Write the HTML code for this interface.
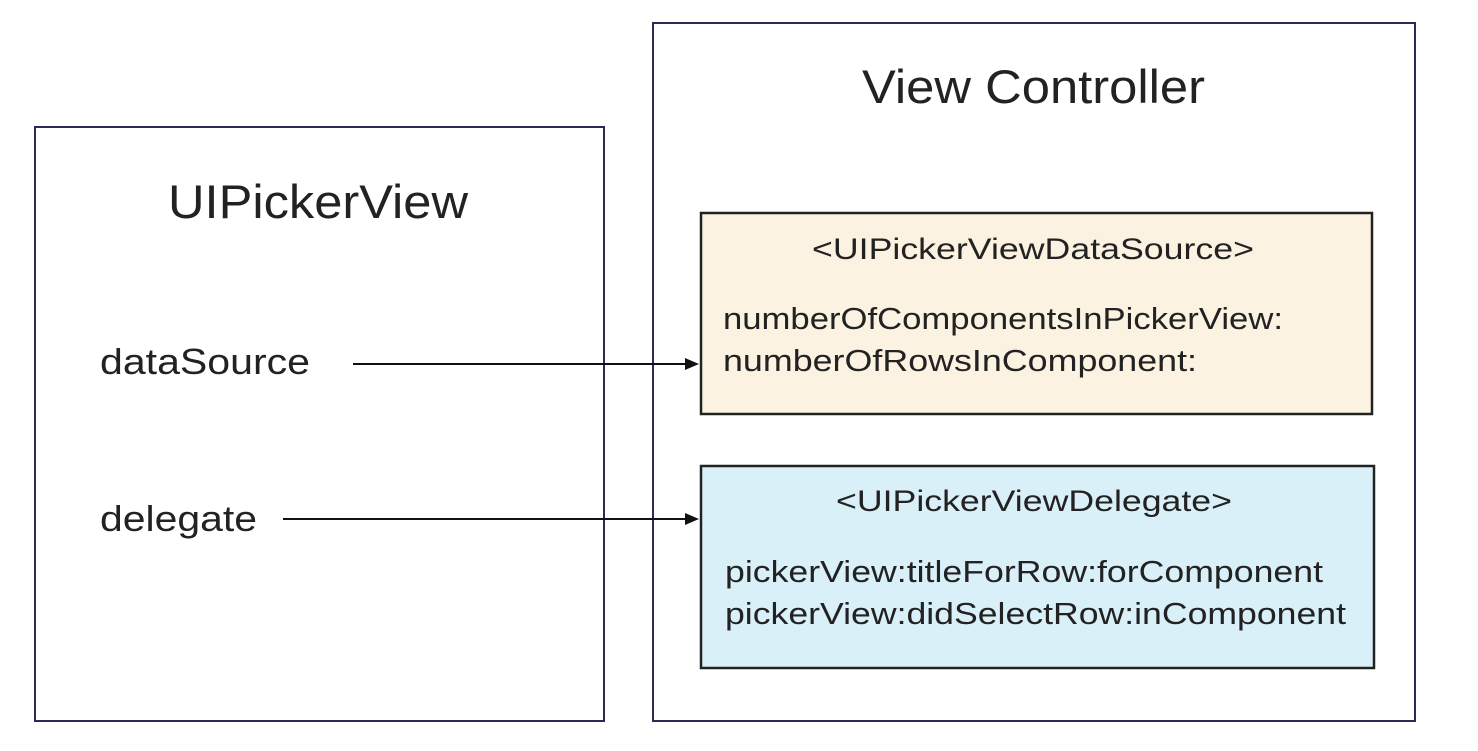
<!DOCTYPE html>
<html><head><style>
body{margin:0;background:#fff;}
svg text{font-family:"Liberation Sans",Arial,sans-serif;fill:#222;}
</style></head><body>
<svg width="1478" height="746" xmlns="http://www.w3.org/2000/svg">
<rect x="35" y="127" width="569" height="594" fill="#fff" stroke="#2a2a55" stroke-width="2"/>
<rect x="653" y="23" width="762" height="698" fill="#fff" stroke="#2a2a55" stroke-width="2"/>
<rect x="701" y="213" width="671" height="201" fill="#fbf2e1" stroke="#222" stroke-width="2.5"/>
<rect x="701" y="466" width="673" height="202" fill="#d9f0f9" stroke="#222" stroke-width="2.5"/>
<text x="168" y="218" font-size="47" textLength="300" lengthAdjust="spacingAndGlyphs">UIPickerView</text>
<text x="862" y="103" font-size="47" textLength="343" lengthAdjust="spacingAndGlyphs">View Controller</text>
<text x="100" y="374" font-size="36" textLength="210" lengthAdjust="spacingAndGlyphs">dataSource</text>
<text x="100" y="531" font-size="36" textLength="157" lengthAdjust="spacingAndGlyphs">delegate</text>
<text x="812" y="259" font-size="30" textLength="442" lengthAdjust="spacingAndGlyphs">&lt;UIPickerViewDataSource&gt;</text>
<text x="723" y="329" font-size="31" textLength="560" lengthAdjust="spacingAndGlyphs">numberOfComponentsInPickerView:</text>
<text x="723" y="371" font-size="31" textLength="474" lengthAdjust="spacingAndGlyphs">numberOfRowsInComponent:</text>
<text x="836" y="511" font-size="30" textLength="396" lengthAdjust="spacingAndGlyphs">&lt;UIPickerViewDelegate&gt;</text>
<text x="725" y="582" font-size="31" textLength="598" lengthAdjust="spacingAndGlyphs">pickerView:titleForRow:forComponent</text>
<text x="725" y="624" font-size="31" textLength="621" lengthAdjust="spacingAndGlyphs">pickerView:didSelectRow:inComponent</text>
<line x1="353" y1="364" x2="688" y2="364" stroke="#111" stroke-width="2"/>
<polygon points="699,364 685,358 685,370" fill="#111"/>
<line x1="283" y1="519" x2="688" y2="519" stroke="#111" stroke-width="2"/>
<polygon points="699,519 685,513 685,525" fill="#111"/>
</svg>
</body></html>
